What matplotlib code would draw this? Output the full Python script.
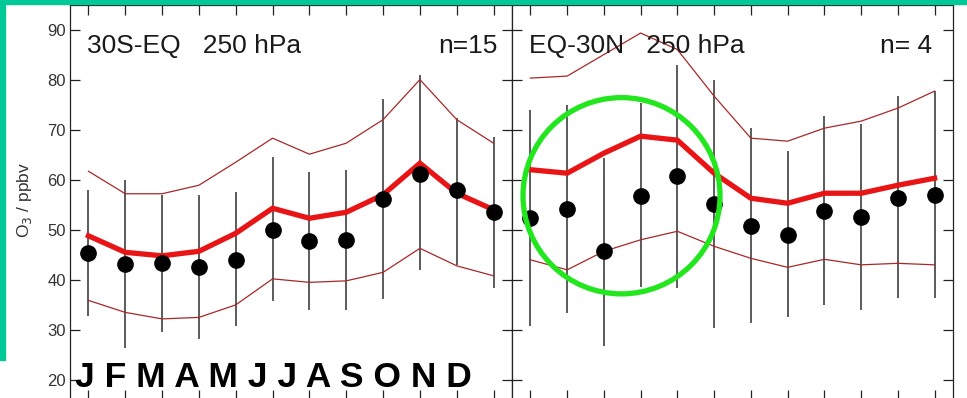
import matplotlib
matplotlib.use("Agg")
import matplotlib.pyplot as plt
from matplotlib.patches import Ellipse, Rectangle

plt.rcParams['font.family'] = ['Liberation Sans', 'DejaVu Sans']

months = list(range(1, 13))
month_letters = "J F M A M J J A S O N D"
yticks = [20, 30, 40, 50, 60, 70, 80, 90]

# 30S-EQ, 250 hPa
sh_obs = [45.3, 43.2, 43.3, 42.5, 44.0, 50.0, 47.7, 47.9, 56.1, 61.2, 57.9, 53.5]
sh_model = [48.8, 45.5, 44.8, 45.7, 49.3, 54.3, 52.3, 53.5, 57.0, 63.3, 57.3, 54.0]
sh_upper = [61.7, 57.2, 57.2, 58.9, 63.5, 68.3, 65.1, 67.3, 72.0, 80.0, 72.0, 67.3]
sh_lower = [35.9, 33.5, 32.2, 32.5, 35.0, 40.2, 39.5, 39.8, 41.5, 46.3, 42.8, 40.8]
sh_err_top = [57.9, 60.0, 57.0, 57.0, 57.5, 64.5, 61.5, 62.0, 76.1, 81.0, 72.3, 68.5]
sh_err_bot = [32.8, 26.3, 29.5, 28.1, 30.8, 35.7, 34.0, 34.0, 36.1, 41.9, 43.0, 38.3]

# EQ-30N, 250 hPa
nh_obs = [52.3, 54.1, 45.7, 56.8, 60.7, 55.1, 50.7, 49.0, 53.8, 52.5, 56.3, 57.0]
nh_model = [62.0, 61.3, 65.3, 68.7, 67.9, 61.3, 56.3, 55.3, 57.3, 57.3, 58.9, 60.3]
nh_upper = [80.3, 80.7, 85.0, 89.3, 86.0, 76.7, 68.3, 67.7, 70.3, 71.7, 74.3, 77.7]
nh_lower = [44.0, 42.0, 45.7, 48.0, 49.7, 46.7, 44.3, 42.5, 44.1, 43.0, 43.3, 43.0]
nh_err_top = [74.0, 75.0, 64.3, 75.3, 83.0, 80.0, 70.3, 65.7, 72.7, 71.2, 76.7, 77.7]
nh_err_bot = [30.8, 33.3, 26.8, 38.5, 38.3, 30.3, 31.3, 32.5, 34.9, 34.0, 36.3, 36.3]

W, H = 967, 398
fig = plt.figure(figsize=(W / 100, H / 100), dpi=100)

# axes run from y=16 (just below the picture) to y=95
bot = (H - 400) / H
top = (H - 4.5) / H
ax1 = fig.add_axes([70 / W, bot, 442 / W, top - bot])
ax2 = fig.add_axes([512 / W, bot, 441 / W, top - bot])


def panel(ax, obs, model, upper, lower, etop, ebot, title, ntext, nx):
    ax.vlines(months, ebot, etop, color='#404040', lw=1.2, zorder=2)
    ax.plot(months, upper, color='#a8282a', lw=0.9, zorder=3)
    ax.plot(months, lower, color='#a8282a', lw=0.9, zorder=3)
    ax.plot(months, model, color='#e81416', lw=3.8, zorder=4, solid_joinstyle='miter')
    ax.plot(months, obs, 'o', color='black', ms=11, zorder=5)
    ax.set_xlim(0.5, 12.5)
    ax.set_ylim(16, 95)
    ax.set_xticks(months)
    ax.set_yticks(yticks)
    ax.tick_params(direction='in', length=7, width=0.9, color='#222222',
                   top=True, bottom=True, left=True, right=True,
                   labelbottom=False, labelsize=12, labelcolor='#333333', pad=3)
    for s in ax.spines.values():
        s.set_linewidth(0.9)
        s.set_color('#222222')
    ax.text(0.96, 85.4, title, fontsize=19, va='baseline', ha='left', color='#1a1a1a')
    ax.text(nx, 85.4, ntext, fontsize=19, va='baseline', ha='right', color='#1a1a1a')


panel(ax1, sh_obs, sh_model, sh_upper, sh_lower, sh_err_top, sh_err_bot,
      "30S-EQ   250 hPa", "n=15", 12.1)
panel(ax2, nh_obs, nh_model, nh_upper, nh_lower, nh_err_top, nh_err_bot,
      "EQ-30N   250 hPa", "n= 4", 11.93)
ax2.tick_params(labelleft=False)

# highlight circle
ax2.add_patch(Ellipse((3.48, 56.8), 5.36, 39.2, fill=False, ec='#22e61e',
                      lw=3.8, zorder=10, clip_on=False))

fig.text(24 / W, (H - 200) / H, "O$_3$ / ppbv", rotation=90, fontsize=12.5,
         color='#333333', ha='center', va='center')

fig.text(75 / W, (H - 377.5) / H, month_letters, fontsize=25.5, fontweight='bold',
         ha='left', va='center', color='black', zorder=20)

# teal frame edges from the screenshot
fig.patches.append(Rectangle((0, (H - 4) / H), 1, 4 / H, transform=fig.transFigure,
                             color='#00c896', zorder=30))
fig.patches.append(Rectangle((0, (H - 360) / H), 5 / W, 360 / H, transform=fig.transFigure,
                             color='#00c896', zorder=30))

fig.savefig("out.png", dpi=100)
